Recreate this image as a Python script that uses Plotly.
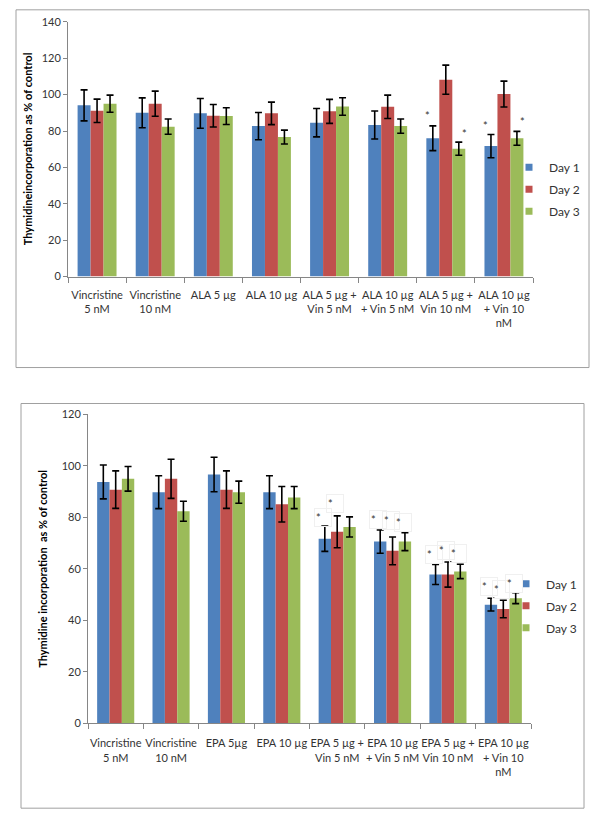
import plotly.graph_objects as go

# ---------------- data ----------------
series_names = ["Day 1", "Day 2", "Day 3"]
series_colors = ["#4F81BD", "#C0504D", "#9BBB59"]

categories_top = ["Vincristine<br>5 nM", "Vincristine<br>10 nM", "ALA 5 µg", "ALA 10 µg",
                  "ALA 5 µg +<br>Vin 5 nM", "ALA 10 µg<br>+ Vin 5 nM",
                  "ALA 5 µg +<br>Vin 10 nM", "ALA 10 µg<br>+ Vin 10<br>nM"]
day1_top = [94.1, 90.0, 89.7, 82.7, 84.6, 83.3, 76.0, 71.7]
day2_top = [91.1, 95.0, 88.4, 89.7, 90.8, 93.3, 108.2, 100.3]
day3_top = [95.0, 82.4, 88.2, 76.7, 93.5, 82.7, 70.3, 76.0]
day1_top_err = [8.5, 8.2, 8.2, 7.5, 7.8, 7.7, 6.8, 6.4]
day2_top_err = [6.4, 6.9, 6.2, 6.2, 6.6, 6.4, 8.0, 7.1]
day3_top_err = [4.7, 4.2, 4.6, 3.8, 4.8, 3.9, 3.6, 3.8]
# significance stars: (category index, series index, height)
stars_top = [(6, 0, 90.0), (6, 2, 80.5), (7, 0, 84.5), (7, 2, 86.9)]
ytitle_top = "Thymidineincorporation as % of control"

categories_bot = ["Vincristine<br>5 nM", "Vincristine<br>10 nM", "EPA 5µg", "EPA 10 µg",
                  "EPA 5 µg +<br>Vin 5 nM", "EPA 10 µg<br>+ Vin 5 nM",
                  "EPA 5 µg +<br>Vin 10 nM", "EPA 10 µg<br>+ Vin 10<br>nM"]
day1_bot = [93.8, 89.8, 96.7, 89.8, 71.7, 70.6, 57.8, 46.1]
day2_bot = [90.8, 95.0, 90.8, 85.1, 74.4, 67.0, 57.8, 44.4]
day3_bot = [95.0, 82.4, 89.8, 87.7, 76.3, 70.6, 59.0, 48.6]
day1_bot_err = [6.6, 6.4, 6.7, 6.4, 4.9, 4.5, 3.9, 2.5]
day2_bot_err = [7.3, 7.6, 7.3, 6.9, 6.2, 5.4, 4.9, 3.4]
day3_bot_err = [4.8, 3.9, 4.3, 4.3, 3.9, 3.5, 2.8, 2.1]
stars_bot = [(4, 0, 80.1), (4, 1, 85.5),
             (5, 0, 79.0), (5, 1, 78.8), (5, 2, 78.0),
             (6, 0, 65.4), (6, 1, 67.1), (6, 2, 66.1),
             (7, 0, 53.0), (7, 1, 52.1), (7, 2, 54.2)]
ytitle_bot = "Thymidine incorporation  as % of control"

top_vals = [day1_top, day2_top, day3_top]
top_errs = [day1_top_err, day2_top_err, day3_top_err]
bot_vals = [day1_bot, day2_bot, day3_bot]
bot_errs = [day1_bot_err, day2_bot_err, day3_bot_err]

# ---------------- figure ----------------
W, H = 600, 823
S = 0.985  # vertical compensation for the slight shrink seen in the rendered photo
FONT = "Lato"
TXT = "#333333"
AXC = "#868686"
FS = 11
FL = 12

fig = go.Figure()

def px_x(p):
    return p / W

def px_y(p):
    return 1 - (H / 2 + (p - H / 2) / S) / H

for i in range(3):
    fig.add_trace(go.Bar(x=categories_top, y=top_vals[i], name=series_names[i],
                         marker=dict(color=series_colors[i], line=dict(width=0)),
                         error_y=dict(type="data", array=top_errs[i], color="black",
                                      thickness=1.6, width=3.5),
                         xaxis="x", yaxis="y", showlegend=False))
for i in range(3):
    fig.add_trace(go.Bar(x=categories_bot, y=bot_vals[i], name=series_names[i],
                         marker=dict(color=series_colors[i], line=dict(width=0)),
                         error_y=dict(type="data", array=bot_errs[i], color="black",
                                      thickness=1.6, width=3.5),
                         xaxis="x2", yaxis="y2", showlegend=False))

# legend entries (small square keys)
for lg in ["legend", "legend2"]:
    for i in range(3):
        fig.add_trace(go.Scatter(x=[None], y=[None], mode="markers", name=series_names[i],
                                 marker=dict(symbol="square", size=7, color=series_colors[i]),
                                 legend=lg, legendgroup=lg + str(i),
                                 xaxis="x" if lg == "legend" else "x2",
                                 yaxis="y" if lg == "legend" else "y2"))

bar_w = (1 - 0.33) / 3

annotations = []
for (c, s, yv) in stars_top:
    annotations.append(dict(x=c + (s - 1) * bar_w, y=yv, xref="x", yref="y", text="*",
                            showarrow=False, font=dict(family=FONT, size=FS, color=TXT),
                            xshift=-5 if s == 0 else 6, yshift=-3))
for (c, s, yv) in stars_bot:
    annotations.append(dict(x=c + (s - 1) * bar_w, y=yv, xref="x2", yref="y2", text="*",
                            showarrow=False, font=dict(family=FONT, size=FS, color=TXT),
                            xshift=-2, yshift=0, bordercolor="#f0f0f0", borderwidth=1,
                            borderpad=1, width=14, height=15, align="left", valign="middle"))

# y-axis titles (vertical text beside each value axis)
annotations.append(dict(x=px_x(27), y=px_y(148.5), xref="paper", yref="paper",
                        text="<b>" + ytitle_top + "</b>", textangle=-90, showarrow=False,
                        xanchor="center", yanchor="middle",
                        font=dict(family=FONT, size=FS, color="black")))
annotations.append(dict(x=px_x(43), y=px_y(568.5), xref="paper", yref="paper",
                        text="<b>" + ytitle_bot + "</b>", textangle=-90, showarrow=False,
                        xanchor="center", yanchor="middle",
                        font=dict(family=FONT, size=FS, color="black")))

shapes = [
    dict(type="rect", xref="paper", yref="paper", x0=px_x(16), x1=px_x(589),
         y0=px_y(367), y1=px_y(9), line=dict(color="#a0a0a0", width=1)),
    dict(type="rect", xref="paper", yref="paper", x0=px_x(21), x1=px_x(584),
         y0=px_y(808), y1=px_y(403), line=dict(color="#a0a0a0", width=1)),
]

xcommon = dict(type="category", showline=True, linecolor=AXC, linewidth=1,
               ticks="outside", ticklen=5, tickcolor=AXC, tickson="boundaries",
               tickfont=dict(family=FONT, size=FS, color=TXT), showgrid=False,
               tickangle=0, zeroline=False)
ycommon = dict(showline=True, linecolor=AXC, linewidth=1, ticks="outside", ticklen=4,
               tickcolor=AXC, tickfont=dict(family=FONT, size=FS, color=TXT),
               showgrid=False, zeroline=False)

fig.update_layout(
    width=W, height=H, margin=dict(l=0, r=0, t=0, b=0),
    paper_bgcolor="white", plot_bgcolor="white",
    barmode="group", bargap=0.33, bargroupgap=0,
    showlegend=True,
    xaxis=dict(domain=[px_x(68), px_x(533)], anchor="y", ticklabelstandoff=8, **xcommon),
    yaxis=dict(domain=[px_y(276), px_y(21)], anchor="x", range=[0, 140], dtick=20,
               **ycommon),
    xaxis2=dict(domain=[px_x(88), px_x(531)], anchor="y2", ticklabelstandoff=10, **xcommon),
    yaxis2=dict(domain=[px_y(723), px_y(414)], anchor="x2", range=[0, 120], dtick=20,
                **ycommon),
    legend=dict(x=px_x(509), y=px_y(152), xanchor="left", yanchor="top",
                font=dict(family=FONT, size=FL, color=TXT), tracegroupgap=3,
                bgcolor="rgba(0,0,0,0)", itemwidth=30),
    legend2=dict(x=px_x(506), y=px_y(569), xanchor="left", yanchor="top",
                 font=dict(family=FONT, size=FL, color=TXT), tracegroupgap=3,
                 bgcolor="rgba(0,0,0,0)", itemwidth=30),
    annotations=annotations,
    shapes=shapes,
)

fig.write_html("out.html", config={"displayModeBar": False},
               post_script="document.documentElement.style.margin='0';"
                           "document.body.style.margin='0';document.body.style.padding='0';"
                           "document.body.style.overflow='hidden';"
                           "var g=document.querySelector('.plotly-graph-div');"
                           "g.style.position='fixed';g.style.left='0';g.style.top='0';")
